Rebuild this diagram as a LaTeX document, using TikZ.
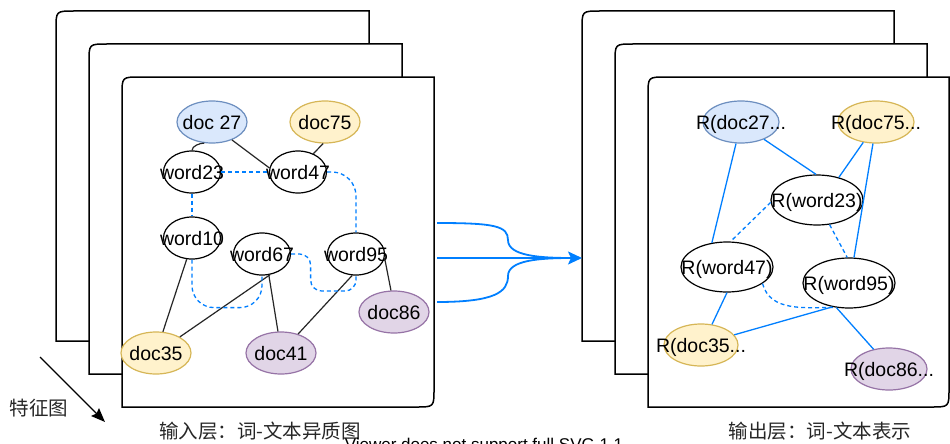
\documentclass[tikz,border=0pt]{standalone}
\usepackage{fontspec}
\setmainfont{Liberation Sans}
\newfontfamily\cjk{Noto Sans CJK SC}
\usetikzlibrary{shapes.geometric,arrows.meta,calc}
\definecolor{lblue}{HTML}{007FFF}
\definecolor{bfill}{HTML}{DAE8FC}
\definecolor{bstroke}{HTML}{6C8EBF}
\definecolor{yfill}{HTML}{FFF2CC}
\definecolor{ystroke}{HTML}{D6B656}
\definecolor{pfill}{HTML}{E1D5E7}
\definecolor{pstroke}{HTML}{9673A6}
\newcommand\zw[1]{\makebox[0pt]{#1}}
\newcommand\fbk[4]{\draw[frm] (#1,#4) -- (#1,#2+18) .. controls (#1,#2) .. (#1+18,#2) -- (#3,#2) -- (#3,#4) -- cycle;}
\newcommand\ffr[4]{\draw[frm] (#1,#4) -- (#1,#2+18) .. controls (#1,#2) .. (#1+18,#2) -- (#3,#2) -- (#3,#4-18) .. controls (#3,#4) .. (#3-18,#4) -- cycle;}
\tikzset{
  frm/.style={draw=black, line width=1.5pt, fill=white},
  ell/.style={ellipse, line width=1.2pt, inner sep=0pt, text height=14pt, text depth=0pt},
  wordn/.style={ell, draw=black, fill=white, minimum width=57pt, minimum height=42pt},
  docb/.style={ell, draw=bstroke, fill=bfill, minimum width=70pt, minimum height=42pt},
  docy/.style={ell, draw=ystroke, fill=yfill, minimum width=70pt, minimum height=42pt},
  docp/.style={ell, draw=pstroke, fill=pfill, minimum width=70pt, minimum height=42pt},
  rword/.style={ell, draw=black, fill=white, minimum width=92pt, minimum height=50pt},
  rdocb/.style={docb, minimum width=76pt},
  rdocy/.style={docy, minimum width=76pt},
  rdocp/.style={docp, minimum width=76pt},
  blk/.style={draw=black!85, line width=1.2pt},
  bl/.style={draw=lblue, line width=1.3pt},
  bldash/.style={bl, dash pattern=on 4pt off 3pt},
  bigbl/.style={draw=lblue, line width=1.8pt},
  cjklabel/.style={font=\cjk\fontsize{19.5}{23}\selectfont, text=black!85, inner sep=0pt}
}
\begin{document}
\begin{tikzpicture}[x=1pt,y=-1pt, font=\fontsize{19.5}{23}\selectfont]
\useasboundingbox (0,0) rectangle (950,444);
% frames left
\fbk{56}{11}{369}{341}
\fbk{89}{44}{402}{374}
\ffr{122}{77}{434}{407}
% frames right
\fbk{582}{11}{894}{341}
\fbk{615}{44}{927}{374}
\ffr{648}{77}{949}{407}

% left nodes
\node[docb] (doc27) at (212,122) {\zw{doc 27}};
\node[docy] (doc75) at (325,122) {\zw{doc75}};
\node[wordn] (word23) at (192,172) {\zw{word23}};
\node[wordn] (word47) at (298,172) {\zw{word47}};
\node[wordn] (word10) at (192,238) {\zw{word10}};
\node[wordn] (word67) at (262,254) {\zw{word67}};
\node[wordn] (word95) at (356,254) {\zw{word95}};
\node[docp] (doc86) at (394,312) {\zw{doc86}};
\node[docy] (doc35) at (156,353) {\zw{doc35}};
\node[docp] (doc41) at (281,353) {\zw{doc41}};

% left solid edges
\draw[blk] (word23.north) to[out=90,in=180,looseness=0.8] (doc27.-110);
\draw[blk] (doc27.-42) -- (word47.172);
\draw[blk] (doc75.-95) -- (word47.50);
\draw[blk] (word10.-104) -- (doc35.72);
\draw[blk] (word67.-69) -- (doc35.34);
\draw[blk] (word67.-72) -- (doc41.98);
\draw[blk] (word95.-100) -- (doc41.48);
\draw[blk] (word95.-8) -- (doc86.98);
% left dashed edges
\draw[bldash] (word23.east) -- (word47.west);
\draw[bldash, rounded corners=24pt] (word47.east) -| (word95.north);
\draw[bldash] (word23.south) -- (word10.north);
\draw[bldash, rounded corners=22pt] (word10.south) |- ([yshift=-32pt]word67.south) -- (word67.south);
\draw[bldash, rounded corners=11pt] (word67.east) -- ++(19.5,0) -- ++(0,37) -| (word95.south);

% right nodes
\node[rdocb] (rdoc27) at (741,122) {\zw{R(doc27...}};
\node[rdocy] (rdoc75) at (876,122) {\zw{R(doc75...}};
\node[rword] (rword23) at (817,200) {\zw{R(word23)}};
\node[rword] (rword47) at (727,267) {\zw{R(word47)}};
\node[rword] (rword95) at (849,283) {\zw{R(word95)}};
\node[rdocy, minimum width=74pt] (rdoc35) at (701,345) {\zw{R(doc35...}};
\node[rdocp] (rdoc86) at (889,369) {\zw{R(doc86...}};

% right solid edges
\draw[bl] (rdoc27.-103) -- (rword47.122);
\draw[bl] (rdoc27.-37) -- (rword23.92);
\draw[bl] (rdoc75.-122) -- (rword23.46);
\draw[bl] (rdoc75.-98) -- (rword95.79);
\draw[bl] (rword47.south) -- (rdoc35.62);
\draw[bl] (rword95.-125) -- (rdoc35.17);
\draw[bl] (rword95.-117) -- (rdoc86.128);
% right dashed edges
\draw[bldash] (rword23.-177) -- (rword47.82);
\draw[bldash] (rword23.-63) -- (rword95.94);
\draw[bldash] (rword47.-25) to[out=-75,in=180] (rword95.-120);

% middle arrows
\coordinate (s1) at (437,223);
\coordinate (s2) at (437,258);
\coordinate (s3) at (437,302);
\coordinate (m) at (572,258);
\coordinate (tip) at (582,258);
\draw[bigbl] (s1) .. controls (495,223) and (508,226) .. (508,240) .. controls (508,256) and (540,258) .. (m);
\draw[bigbl] (s3) .. controls (495,302) and (508,292) .. (508,276) .. controls (508,260) and (540,258) .. (m);
\draw[bigbl, -{Stealth[length=14pt,width=13pt,inset=3pt]}] (s2) -- (tip);

% feature arrow and labels
\coordinate (fa) at (40,357);
\coordinate (fb) at (105,422);
\draw[black, line width=1.3pt, -{Stealth[length=14pt,width=11pt,inset=2pt]}] (fa) -- (fb);
\node[cjklabel] (feat) at (39,408) {特征图};
\node[cjklabel] (inlab) at (260,431) {输入层：词-文本异质图};
\node[cjklabel] (outlab) at (820,431) {输出层：词-文本表示};
\node[font=\fontsize{17}{20}\selectfont, anchor=base, inner sep=0pt] (viewer) at (484,450) {Viewer does not support full SVG 1.1};
\end{tikzpicture}
\end{document}
